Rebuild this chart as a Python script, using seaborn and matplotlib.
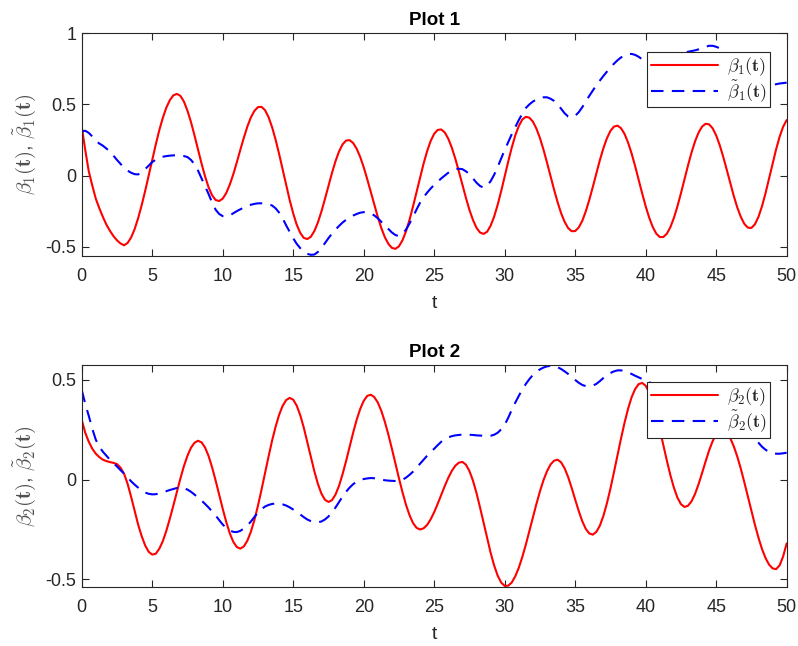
import numpy as np
import pandas as pd
import matplotlib
matplotlib.use("Agg")
import matplotlib.pyplot as plt
import seaborn as sns

# ---------------- data (every 0.25 in t) ----------------
t = np.arange(0, 50.001, 0.25)

beta1 = [
    0.344, 0.18, 0.03, -0.07,
    -0.163, -0.23, -0.29, -0.345,
    -0.388, -0.425, -0.455, -0.477,
    -0.49, -0.474, -0.436, -0.377,
    -0.30, -0.209, -0.108, 0.0,
    0.11, 0.217, 0.318, 0.405,
    0.477, 0.53, 0.564, 0.574,
    0.56, 0.52, 0.456, 0.376,
    0.282, 0.183, 0.084, -0.006,
    -0.083, -0.139, -0.172, -0.179,
    -0.162, -0.123, -0.064, 0.009,
    0.093, 0.181, 0.266, 0.345,
    0.409, 0.455, 0.481, 0.483,
    0.46, 0.411, 0.341, 0.253,
    0.152, 0.043, -0.067, -0.172,
    -0.266, -0.345, -0.403, -0.438,
    -0.446, -0.43, -0.39, -0.33,
    -0.253, -0.165, -0.073, 0.018,
    0.101, 0.169, 0.219, 0.246,
    0.249, 0.229, 0.189, 0.131,
    0.059, -0.025, -0.114, -0.205,
    -0.291, -0.369, -0.433, -0.48,
    -0.508, -0.515, -0.497, -0.455,
    -0.392, -0.311, -0.216, -0.115,
    -0.012, 0.085, 0.172, 0.243,
    0.294, 0.321, 0.324, 0.303,
    0.259, 0.196, 0.118, 0.029,
    -0.065, -0.156, -0.241, -0.312,
    -0.367, -0.40, -0.41, -0.395,
    -0.353, -0.289, -0.206, -0.11,
    -0.006, 0.098, 0.196, 0.282,
    0.348, 0.394, 0.413, 0.407,
    0.379, 0.33, 0.264, 0.183,
    0.092, -0.003, -0.098, -0.186,
    -0.264, -0.325, -0.369, -0.391,
    -0.39, -0.365, -0.319, -0.252,
    -0.171, -0.08, 0.015, 0.108,
    0.192, 0.262, 0.314, 0.344,
    0.351, 0.333, 0.293, 0.232,
    0.156, 0.067, -0.029, -0.125,
    -0.216, -0.296, -0.361, -0.408,
    -0.432, -0.432, -0.409, -0.363,
    -0.298, -0.217, -0.125, -0.027,
    0.07, 0.161, 0.24, 0.302,
    0.344, 0.364, 0.36, 0.332,
    0.282, 0.214, 0.132, 0.041,
    -0.053, -0.144, -0.225, -0.291,
    -0.34, -0.366, -0.368, -0.342,
    -0.29, -0.216, -0.124, -0.022,
    0.083, 0.184, 0.273, 0.343,
    0.39]

beta1_tilde = [
    0.31, 0.315, 0.30, 0.275,
    0.245, 0.225, 0.21, 0.19,
    0.17, 0.14, 0.11, 0.082,
    0.055, 0.035, 0.02, 0.01,
    0.008, 0.022, 0.045, 0.07,
    0.095, 0.112, 0.125, 0.132,
    0.137, 0.14, 0.142, 0.142,
    0.14, 0.137, 0.13, 0.11,
    0.08, 0.035, -0.02, -0.075,
    -0.13, -0.19, -0.24, -0.27,
    -0.285, -0.287, -0.28, -0.265,
    -0.25, -0.237, -0.225, -0.214,
    -0.205, -0.199, -0.195, -0.195,
    -0.197, -0.202, -0.21, -0.23,
    -0.26, -0.30, -0.35, -0.395,
    -0.44, -0.48, -0.51, -0.535,
    -0.55, -0.557, -0.555, -0.537,
    -0.51, -0.475, -0.44, -0.408,
    -0.38, -0.354, -0.33, -0.311,
    -0.295, -0.281, -0.27, -0.261,
    -0.257, -0.258, -0.265, -0.28,
    -0.30, -0.325, -0.35, -0.376,
    -0.40, -0.418, -0.425, -0.41,
    -0.38, -0.337, -0.29, -0.238,
    -0.19, -0.152, -0.12, -0.091,
    -0.065, -0.042, -0.02, 0.0,
    0.02, 0.035, 0.045, 0.048,
    0.045, 0.03, 0.01, -0.02,
    -0.05, -0.073, -0.085, -0.07,
    -0.04, 0.005, 0.06, 0.12,
    0.18, 0.235, 0.29, 0.34,
    0.39, 0.435, 0.475, 0.50,
    0.52, 0.535, 0.545, 0.55,
    0.55, 0.54, 0.525, 0.50,
    0.47, 0.438, 0.415, 0.41,
    0.42, 0.445, 0.48, 0.52,
    0.56, 0.598, 0.635, 0.668,
    0.70, 0.73, 0.76, 0.786,
    0.81, 0.83, 0.845, 0.853,
    0.855, 0.848, 0.835, 0.817,
    0.80, 0.788, 0.78, 0.777,
    0.78, 0.788, 0.80, 0.815,
    0.83, 0.843, 0.855, 0.863,
    0.87, 0.875, 0.88, 0.887,
    0.895, 0.905, 0.912, 0.912,
    0.905, 0.895, 0.88, 0.858,
    0.83, 0.80, 0.77, 0.74,
    0.71, 0.688, 0.67, 0.656,
    0.645, 0.638, 0.635, 0.635,
    0.637, 0.642, 0.647, 0.65,
    0.653]

beta2 = [
    0.30, 0.235, 0.19, 0.155,
    0.13, 0.113, 0.10, 0.093,
    0.088, 0.084, 0.078, 0.06,
    0.03, -0.02, -0.085, -0.155,
    -0.225, -0.283, -0.33, -0.362,
    -0.376, -0.372, -0.347, -0.309,
    -0.257, -0.196, -0.13, -0.061,
    0.006, 0.068, 0.12, 0.16,
    0.185, 0.195, 0.187, 0.161,
    0.118, 0.061, -0.005, -0.076,
    -0.146, -0.212, -0.269, -0.312,
    -0.338, -0.346, -0.335, -0.306,
    -0.261, -0.202, -0.131, -0.051,
    0.032, 0.115, 0.195, 0.265,
    0.325, 0.37, 0.399, 0.41,
    0.401, 0.371, 0.323, 0.261,
    0.189, 0.115, 0.042, -0.021,
    -0.07, -0.101, -0.112, -0.103,
    -0.075, -0.031, 0.027, 0.093,
    0.164, 0.235, 0.30, 0.354,
    0.395, 0.42, 0.426, 0.414,
    0.387, 0.345, 0.29, 0.226,
    0.155, 0.081, 0.007, -0.063,
    -0.126, -0.178, -0.218, -0.242,
    -0.25, -0.244, -0.227, -0.199,
    -0.163, -0.121, -0.076, -0.032,
    0.009, 0.044, 0.07, 0.085,
    0.089, 0.075, 0.043, -0.005,
    -0.067, -0.139, -0.215, -0.292,
    -0.366, -0.43, -0.481, -0.516,
    -0.533, -0.532, -0.516, -0.485,
    -0.442, -0.388, -0.326, -0.259,
    -0.19, -0.122, -0.059, -0.003,
    0.042, 0.076, 0.095, 0.10,
    0.087, 0.057, 0.013, -0.041,
    -0.10, -0.157, -0.208, -0.247,
    -0.27, -0.276, -0.262, -0.231,
    -0.182, -0.119, -0.045, 0.037,
    0.122, 0.206, 0.285, 0.355,
    0.413, 0.454, 0.479, 0.485,
    0.471, 0.438, 0.388, 0.325,
    0.252, 0.174, 0.096, 0.023,
    -0.04, -0.09, -0.123, -0.137,
    -0.131, -0.109, -0.072, -0.023,
    0.033, 0.091, 0.147, 0.193,
    0.228, 0.247, 0.249, 0.235,
    0.208, 0.167, 0.115, 0.054,
    -0.014, -0.085, -0.157, -0.227,
    -0.291, -0.348, -0.393, -0.426,
    -0.445, -0.449, -0.43, -0.385,
    -0.32]

beta2_tilde = [
    0.45, 0.38, 0.32, 0.255,
    0.20, 0.165, 0.14, 0.12,
    0.10, 0.083, 0.066, 0.048,
    0.03, 0.011, -0.008, -0.025,
    -0.04, -0.054, -0.065, -0.071,
    -0.074, -0.073, -0.07, -0.064,
    -0.058, -0.052, -0.047, -0.042,
    -0.04, -0.043, -0.05, -0.061,
    -0.075, -0.09, -0.105, -0.122,
    -0.14, -0.16, -0.18, -0.203,
    -0.225, -0.243, -0.255, -0.262,
    -0.263, -0.257, -0.245, -0.23,
    -0.21, -0.187, -0.165, -0.148,
    -0.135, -0.127, -0.122, -0.12,
    -0.12, -0.124, -0.13, -0.139,
    -0.15, -0.162, -0.175, -0.188,
    -0.20, -0.208, -0.213, -0.214,
    -0.21, -0.20, -0.185, -0.164,
    -0.14, -0.112, -0.085, -0.061,
    -0.04, -0.023, -0.01, -0.002,
    0.003, 0.006, 0.008, 0.007,
    0.004, 0.0, -0.003, -0.005,
    -0.006, -0.007, -0.007, -0.001,
    0.01, 0.024, 0.04, 0.06,
    0.08, 0.10, 0.12, 0.138,
    0.155, 0.173, 0.19, 0.203,
    0.212, 0.218, 0.222, 0.224,
    0.226, 0.226, 0.225, 0.224,
    0.222, 0.221, 0.22, 0.219,
    0.22, 0.225, 0.235, 0.252,
    0.275, 0.31, 0.35, 0.386,
    0.42, 0.452, 0.48, 0.504,
    0.525, 0.541, 0.553, 0.562,
    0.568, 0.571, 0.57, 0.564,
    0.555, 0.543, 0.53, 0.515,
    0.50, 0.486, 0.475, 0.469,
    0.468, 0.472, 0.48, 0.494,
    0.51, 0.524, 0.535, 0.543,
    0.548, 0.548, 0.545, 0.538,
    0.53, 0.521, 0.513, 0.505,
    0.498, 0.489, 0.48, 0.47,
    0.46, 0.45, 0.44, 0.43,
    0.42, 0.41, 0.40, 0.39,
    0.38, 0.37, 0.36, 0.352,
    0.345, 0.337, 0.33, 0.322,
    0.315, 0.307, 0.30, 0.293,
    0.285, 0.276, 0.265, 0.253,
    0.24, 0.228, 0.215, 0.20,
    0.185, 0.165, 0.15, 0.139,
    0.132, 0.13, 0.13, 0.132,
    0.135]

titles = ["Plot 1", "Plot 2"]
x_ticks = list(range(0, 51, 5))
y_ticks_1 = [-0.5, 0, 0.5, 1]
y_ticks_2 = [-0.5, 0, 0.5]
y_ticklabels_1 = ["-0.5", "0", "0.5", "1"]
y_ticklabels_2 = ["-0.5", "0", "0.5"]

# ---------------- style ----------------
sns.set_style("ticks")
plt.rcParams["font.family"] = ["Liberation Sans", "DejaVu Sans"]
plt.rcParams["mathtext.fontset"] = "cm"

AX_COL = "#262626"
fig = plt.figure(figsize=(7.98, 6.46), dpi=100)
ax1 = fig.add_axes([0.1024, 0.6042, 0.8834, 0.3443])
ax2 = fig.add_axes([0.1024, 0.0918, 0.8834, 0.3432])

panels = [
    (ax1, beta1, beta1_tilde, "1", (-0.563, 1.0), y_ticks_1, y_ticklabels_1, (0.9765, 0.918)),
    (ax2, beta2, beta2_tilde, "2", (-0.537, 0.575), y_ticks_2, y_ticklabels_2, (0.9765, 0.924)),
]

for i, (ax, b, bt, k, ylim, yt, ytl, anchor) in enumerate(panels):
    df = pd.DataFrame({"t": t, "b": b, "bt": bt})
    lab_b = r"$\beta_{\mathbf{%s}}\mathbf{(t)}$" % k
    lab_bt = r"$\tilde{\beta}_{\mathbf{%s}}\mathbf{(t)}$" % k
    sns.lineplot(data=df, x="t", y="b", ax=ax, color="#ff0000", lw=1.5,
                 label=lab_b, sort=False, estimator=None)
    sns.lineplot(data=df, x="t", y="bt", ax=ax, color="#0000ff", lw=1.5,
                 label=lab_bt, sort=False, estimator=None)
    ax.lines[-1].set_dashes([6, 4])

    ax.set_xlim(0, 50)
    ax.set_ylim(*ylim)
    ax.set_xticks(x_ticks)
    ax.set_xticklabels([str(v) for v in x_ticks])
    ax.set_yticks(yt)
    ax.set_yticklabels(ytl)
    ax.tick_params(direction="in", top=True, right=True, length=5, width=0.8,
                   colors=AX_COL, labelsize=13)
    ax.tick_params(axis="x", pad=9)
    ax.tick_params(axis="y", pad=4)
    for sp in ax.spines.values():
        sp.set_visible(True)
        sp.set_color(AX_COL)
        sp.set_linewidth(0.8)
    ax.set_title(titles[i], fontsize=13.5, fontweight="bold", color="black", pad=6)
    ax.set_xlabel("t", fontsize=14, color=AX_COL, labelpad=7)
    ax.set_ylabel(lab_b + ", " + lab_bt, fontsize=15, color="#505050", labelpad=5)

    leg = ax.legend(loc="upper right", bbox_to_anchor=anchor, fontsize=13,
                    frameon=True, fancybox=False, handlelength=3.7,
                    handletextpad=0.5, borderpad=0.2, labelspacing=0.0,
                    borderaxespad=0.0)
    fr = leg.get_frame()
    fr.set_edgecolor(AX_COL)
    fr.set_linewidth(0.8)
    fr.set_facecolor("white")
    fr.set_alpha(1.0)

fig.savefig("out.png", dpi=100)
